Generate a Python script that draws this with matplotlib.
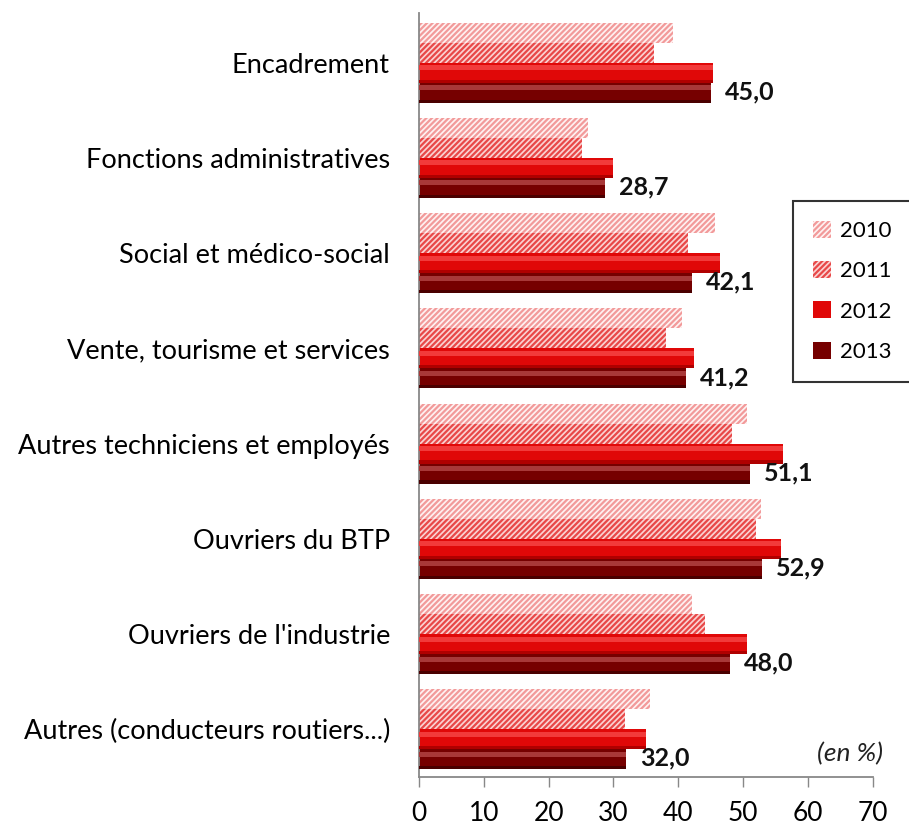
import numpy as np
import matplotlib
matplotlib.use("Agg")
import matplotlib.pyplot as plt
from matplotlib.patches import Patch

plt.rcParams['font.family'] = ['Lato', 'DejaVu Sans']
plt.rcParams['hatch.linewidth'] = 1.6

# ------------- Data --------------
categories = ["Encadrement", "Fonctions administratives", "Social et médico-social",
              "Vente, tourisme et services", "Autres techniciens et employés",
              "Ouvriers du BTP", "Ouvriers de l'industrie",
              "Autres (conducteurs routiers...)"]
years = ["2010", "2011", "2012", "2013"]
v2010 = [39.2, 26.0, 45.6, 40.6, 50.6, 52.8, 42.1, 35.6]
v2011 = [36.3, 25.2, 41.5, 38.1, 48.3, 52.0, 44.2, 31.8]
v2012 = [45.3, 30.0, 46.4, 42.5, 56.1, 55.9, 50.6, 35.0]
v2013 = [45.0, 28.7, 42.1, 41.2, 51.1, 52.9, 48.0, 32.0]
labels_2013 = ["45,0", "28,7", "42,1", "41,2", "51,1", "52,9", "48,0", "32,0"]

# ------------- Styles --------------
faces = ["#FFF2F2", "#FBD3D3", "#E00808", "#760000"]
hatch_cols = ["#F29A9A", "#E84848", "#E00808", "#760000"]
hatches = ["//////", "//////", None, None]
highlights = [None, None, "#F23A3A", "#A83838"]

fig = plt.figure(figsize=(9.09, 8.24), dpi=100)
ax = fig.add_axes([0.461, 0.057, 0.499, 0.927])

y = np.arange(len(categories))
h = 0.21
offsets = [-1.5 * h, -0.5 * h, 0.5 * h, 1.5 * h]
series = [v2010, v2011, v2012, v2013]

for i, vals in enumerate(series):
    ax.barh(y + offsets[i], vals, height=h, color=faces[i], edgecolor=hatch_cols[i],
            hatch=hatches[i], linewidth=0, zorder=2)
    if highlights[i]:
        # lighter strip to hint at the bevelled look
        ax.barh(y + offsets[i] - h * 0.25, vals, height=h * 0.25, color=highlights[i],
                linewidth=0, zorder=3)
        ax.barh(y + offsets[i] + h * 0.42, vals, height=h * 0.16,
                color="#4A0000" if i == 3 else "#B00000", linewidth=0, zorder=3)

for yi, v, lab in zip(y, v2013, labels_2013):
    ax.annotate(lab, xy=(v, yi + 1.45 * h), xytext=(10, 0), textcoords="offset points",
                va="center", ha="left", fontsize=18, fontweight="bold", color="#111111")

ax.set_xlim(0, 70)
ax.set_ylim(len(categories) - 0.5, -0.52)
ax.set_xticks(np.arange(0, 71, 10))
ax.set_yticks(y)
ax.set_yticklabels(categories, fontsize=19.5)
ax.tick_params(axis='y', length=0, pad=21)
ax.tick_params(axis='x', length=7, width=1, color="#888888", labelsize=19, pad=10)

for s in ["top", "right"]:
    ax.spines[s].set_visible(False)
for s in ["left", "bottom"]:
    ax.spines[s].set_color("#888888")
    ax.spines[s].set_linewidth(1.3)

ax.text(1.022, 0.031, "(en %)", transform=ax.transAxes, ha="right", va="center",
        fontsize=19, style="italic", color="#222222")

handles = [Patch(facecolor=faces[i], edgecolor=hatch_cols[i], hatch=hatches[i], linewidth=0,
                 label=years[i]) for i in range(4)]
leg = fig.legend(handles=handles, loc="upper left", bbox_to_anchor=(793 / 909, 1 - 201 / 824),
                 fontsize=16, frameon=True, fancybox=False, handlelength=0.8, handleheight=0.8,
                 handletextpad=0.4, labelspacing=0.9, borderpad=0.9, borderaxespad=0)
leg.get_frame().set_edgecolor("black")
leg.get_frame().set_linewidth(1.5)

fig.savefig("out.png", dpi=100)
